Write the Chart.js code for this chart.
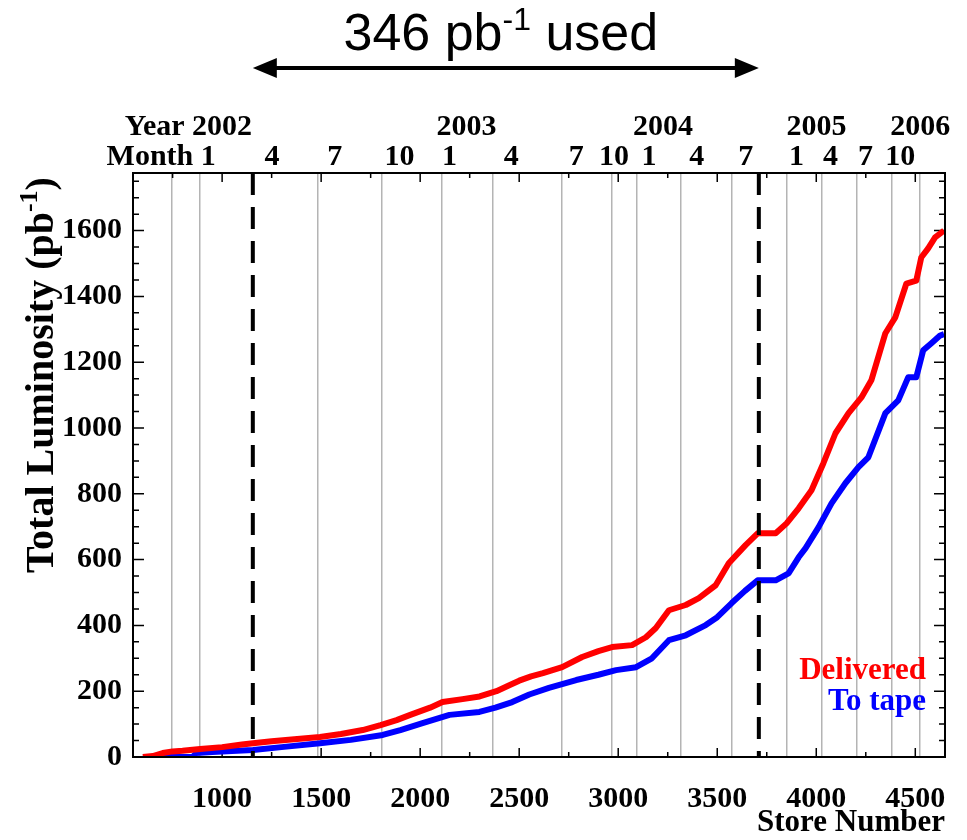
<!DOCTYPE html>
<html>
<head>
<meta charset="utf-8">
<title>Total Luminosity vs Store Number</title>
<script src="https://cdn.jsdelivr.net/npm/chart.js@4.4.1/dist/chart.umd.min.js"></script>
<style>
  body { margin: 0; background: #fff; }
  canvas { display: block; }
</style>
</head>
<body>
<canvas id="lumiChart" width="967" height="840"></canvas>
<script>
// store number ranges and ticks
const storeMin = 550;
const storeMax = 4650;
const storeTicks = [1000, 1500, 2000, 2500, 3000, 3500, 4000, 4500];
const lumiMax = 1775;
const lumiTicks = [0, 200, 400, 600, 800, 1000, 1200, 1400, 1600];

// calendar axis on top (positions in store number)
const gridStores = [748, 889, 1483, 1806, 2108, 2365, 2717, 2969, 3095, 3316, 3573, 3850, 4026, 4203, 4379, 4525];
const monthStores = [930, 1252, 1569, 1896, 2148, 2460, 2788, 2979, 3155, 3397, 3644, 3900, 4072, 4248, 4424];
const monthLabels = ['1', '4', '7', '10', '1', '4', '7', '10', '1', '4', '7', '1', '4', '7', '10'];
const yearStores = [1000, 2234, 3226, 4001, 4525];
const yearLabels = ['2002', '2003', '2004', '2005', '2006'];

// the range used in the analysis
const usedStores = [1155, 3710];

// Delivered luminosity (pb^-1)
const deliveredStore = [600, 650, 700, 750, 800, 889, 1000, 1100, 1156, 1250, 1350, 1494, 1600, 1710, 1800, 1881, 1950, 2050, 2113, 2214, 2300, 2385, 2450, 2500, 2560, 2620, 2717, 2818, 2900, 2969, 3070, 3140, 3190, 3256, 3341, 3407, 3492, 3558, 3643, 3704, 3795, 3850, 3911, 3976, 4036, 4097, 4163, 4228, 4278, 4349, 4399, 4455, 4505, 4530, 4565, 4600, 4645];
const deliveredLumi = [0, 3, 12, 17, 19, 24, 30, 38, 42, 48, 53, 61, 70, 82, 97, 112, 128, 150, 167, 176, 184, 200, 218, 232, 245, 255, 273, 304, 322, 334, 340, 364, 392, 446, 462, 483, 522, 589, 644, 680, 680, 710, 756, 811, 893, 984, 1045, 1093, 1145, 1288, 1336, 1439, 1448, 1518, 1546, 1579, 1600];

// Luminosity to tape (pb^-1)
const tapeStore = [600, 850, 870, 950, 1050, 1156, 1300, 1494, 1650, 1811, 1900, 2012, 2148, 2299, 2380, 2465, 2551, 2650, 2788, 2900, 2989, 3090, 3170, 3256, 3341, 3442, 3500, 3573, 3640, 3704, 3795, 3860, 3911, 3946, 4011, 4077, 4147, 4213, 4263, 4349, 4414, 4464, 4505, 4540, 4580, 4625, 4645];
const tapeLumi = [0, 0, 12, 15, 18, 21, 30, 42, 52, 67, 82, 103, 128, 137, 150, 167, 190, 210, 234, 250, 264, 273, 300, 355, 370, 401, 425, 468, 505, 537, 537, 558, 607, 635, 698, 771, 832, 881, 911, 1045, 1084, 1154, 1154, 1236, 1257, 1281, 1285];

const SERIF = '"Liberation Serif", "Times New Roman", serif';
const SANS = '"Liberation Sans", Arial, sans-serif';

let myChart;

document.addEventListener("DOMContentLoaded", function () {
    renderChart();
});

function toPoints(xs, ys) {
    return xs.map((x, i) => ({ x: x, y: ys[i] }));
}

function fixedTicks(values) {
    return function (scale) {
        scale.ticks = values.map(v => ({ value: v }));
    };
}

function labelFrom(values, labels) {
    return function (value) {
        const i = values.indexOf(value);
        return i >= 0 ? labels[i] : '';
    };
}

// horizontal axes: fixed height, and no extra side padding for overhanging labels
function fixHeight(h) {
    return function (scale) {
        scale.height = h;
        scale.paddingLeft = 0;
        scale.paddingRight = 0;
    };
}

// text with a superscript part, drawn left to right from x
function drawSupText(ctx, parts, x, y, font, supFont, rise) {
    let cx = x;
    parts.forEach(p => {
        ctx.font = p.sup ? supFont : font;
        ctx.fillText(p.text, cx, p.sup ? y - rise : y);
        cx += ctx.measureText(p.text).width;
    });
}

function supTextWidth(ctx, parts, font, supFont) {
    let w = 0;
    parts.forEach(p => {
        ctx.font = p.sup ? supFont : font;
        w += ctx.measureText(p.text).width;
    });
    return w;
}

const overlayPlugin = {
    id: 'overlay',
    beforeDatasetsDraw(chart) {
        const ctx = chart.ctx;
        const area = chart.chartArea;
        const xs = chart.scales.x;
        const ys = chart.scales.y;
        ctx.save();
        ctx.strokeStyle = '#000';
        // inner tick marks on all four sides
        ctx.lineWidth = 1.5;
        for (let v = 750; v <= storeMax; v += 250) {
            const px = xs.getPixelForValue(v);
            const len = storeTicks.includes(v) ? 9 : 5;
            ctx.beginPath();
            ctx.moveTo(px, area.bottom); ctx.lineTo(px, area.bottom - len);
            ctx.moveTo(px, area.top); ctx.lineTo(px, area.top + len);
            ctx.stroke();
        }
        for (let v = 50; v < lumiMax; v += 50) {
            const py = ys.getPixelForValue(v);
            const len = lumiTicks.includes(v) ? 11 : 6;
            ctx.beginPath();
            ctx.moveTo(area.left, py); ctx.lineTo(area.left + len, py);
            ctx.moveTo(area.right, py); ctx.lineTo(area.right - len, py);
            ctx.stroke();
        }
        ctx.restore();
    },
    afterDatasetsDraw(chart) {
        const ctx = chart.ctx;
        const area = chart.chartArea;
        const xs = chart.scales.x;
        ctx.save();
        // dashed lines marking the used range
        ctx.strokeStyle = '#000';
        ctx.lineWidth = 4;
        ctx.setLineDash([22, 12]);
        usedStores.forEach(s => {
            const px = xs.getPixelForValue(s);
            ctx.beginPath();
            ctx.moveTo(px, area.top);
            ctx.lineTo(px, area.bottom);
            ctx.stroke();
        });
        ctx.setLineDash([]);
        // frame
        ctx.lineWidth = 2;
        ctx.strokeRect(area.left, area.top, area.right - area.left, area.bottom - area.top);
        ctx.restore();
    },
    afterDraw(chart) {
        const ctx = chart.ctx;
        const xs = chart.scales.x;
        ctx.save();
        ctx.fillStyle = '#000';
        ctx.textBaseline = 'alphabetic';

        // header "346 pb-1 used"
        const headParts = [{ text: '346 pb' }, { text: '-1', sup: true }, { text: ' used' }];
        const headFont = '52px ' + SANS;
        const headSup = '32px ' + SANS;
        const hw = supTextWidth(ctx, headParts, headFont, headSup);
        const xa = xs.getPixelForValue(usedStores[0]);
        const xb = xs.getPixelForValue(usedStores[1]);
        drawSupText(ctx, headParts, (xa + xb) / 2 - 5 - hw / 2, 50, headFont, headSup, 20);

        // double-headed arrow
        const ay = 68;
        ctx.strokeStyle = '#000';
        ctx.lineWidth = 4;
        ctx.beginPath();
        ctx.moveTo(xa + 12, ay);
        ctx.lineTo(xb - 12, ay);
        ctx.stroke();
        ctx.beginPath();
        ctx.moveTo(xa, ay); ctx.lineTo(xa + 24, ay - 10); ctx.lineTo(xa + 24, ay + 10); ctx.closePath();
        ctx.moveTo(xb, ay); ctx.lineTo(xb - 24, ay - 10); ctx.lineTo(xb - 24, ay + 10); ctx.closePath();
        ctx.fill();

        // "Year" and "Month" words in front of the first labels
        ctx.font = 'bold 30px ' + SERIF;
        ctx.textAlign = 'right';
        ctx.textBaseline = 'middle';
        const sp = ctx.measureText(' ').width;
        const yearScale = chart.scales.xYear;
        const monthScale = chart.scales.xMonth;
        const y0 = yearScale.getPixelForValue(yearStores[0]) - ctx.measureText(yearLabels[0]).width / 2 - sp;
        ctx.fillText('Year', y0, yearScale.bottom - 15);
        const m0 = monthScale.getPixelForValue(monthStores[0]) - ctx.measureText(monthLabels[0]).width / 2 - sp;
        ctx.fillText('Month', m0, monthScale.bottom - 16);

        // legend
        ctx.font = 'bold 31px ' + SERIF;
        ctx.fillStyle = '#ff0000';
        ctx.fillText('Delivered', 926, 671);
        ctx.fillStyle = '#0000ff';
        ctx.fillText('To tape', 926, 702);

        // y axis title with superscript, rotated
        ctx.fillStyle = '#000';
        ctx.textAlign = 'left';
        ctx.textBaseline = 'alphabetic';
        const titleParts = [{ text: 'Total Luminosity (pb' }, { text: '-1', sup: true }, { text: ')' }];
        const tFont = 'bold 40px ' + SERIF;
        const tSup = 'bold 26px ' + SERIF;
        const tw = supTextWidth(ctx, titleParts, tFont, tSup);
        ctx.translate(53, 375);
        ctx.rotate(-Math.PI / 2);
        drawSupText(ctx, titleParts, -tw / 2, 0, tFont, tSup, 16);
        ctx.restore();
    }
};

function renderChart() {
    const ctx = document.getElementById('lumiChart').getContext('2d');
    const tickFont = { family: SERIF, size: 30, weight: 'bold' };
    const topFont = { family: SERIF, size: 30, weight: 'bold', lineHeight: 1 };

    if (myChart) {
        myChart.destroy();
    }

    myChart = new Chart(ctx, {
        type: 'line',
        data: {
            datasets: [{
                label: 'Delivered',
                data: toPoints(deliveredStore, deliveredLumi),
                borderColor: '#ff0000',
                borderWidth: 6,
                pointRadius: 0,
                borderJoinStyle: 'round',
                tension: 0
            }, {
                label: 'To tape',
                data: toPoints(tapeStore, tapeLumi),
                borderColor: '#0000ff',
                borderWidth: 6,
                pointRadius: 0,
                borderJoinStyle: 'round',
                tension: 0
            }]
        },
        options: {
            responsive: false,
            animation: false,
            devicePixelRatio: 1,
            layout: { padding: { top: 111, right: 22, left: 0, bottom: 0 } },
            plugins: {
                legend: { display: false },
                tooltip: { enabled: false }
            },
            scales: {
                x: {
                    type: 'linear',
                    position: 'bottom',
                    min: storeMin,
                    max: storeMax,
                    afterBuildTicks: fixedTicks(storeTicks),
                    grid: { display: false, drawTicks: false },
                    border: { display: false },
                    ticks: {
                        font: tickFont, color: '#000', padding: 24,
                        autoSkip: false, maxRotation: 0,
                        callback: v => String(v)
                    },
                    title: {
                        display: true, text: 'Store Number', align: 'end', color: '#000',
                        font: { family: SERIF, size: 31, weight: 'bold', lineHeight: 1 },
                        padding: { top: 0, bottom: 2 }
                    },
                    afterFit: fixHeight(83)
                },
                y: {
                    type: 'linear',
                    min: 0,
                    max: lumiMax,
                    afterBuildTicks: fixedTicks(lumiTicks),
                    grid: { display: false, drawTicks: false },
                    border: { display: false },
                    ticks: { font: tickFont, color: '#000', padding: 11, callback: v => String(v) },
                    afterFit: s => { s.width = 133; s.paddingTop = 0; s.paddingBottom = 0; }
                },
                xYear: {
                    type: 'linear',
                    position: 'top',
                    weight: 3,
                    min: storeMin,
                    max: storeMax,
                    afterBuildTicks: fixedTicks(yearStores),
                    grid: { display: false, drawTicks: false },
                    border: { display: false },
                    ticks: {
                        font: topFont, color: '#000', padding: 0,
                        autoSkip: false, maxRotation: 0,
                        callback: labelFrom(yearStores, yearLabels)
                    },
                    afterFit: fixHeight(31)
                },
                xMonth: {
                    type: 'linear',
                    position: 'top',
                    weight: 2,
                    min: storeMin,
                    max: storeMax,
                    afterBuildTicks: fixedTicks(monthStores),
                    grid: { display: false, drawTicks: false },
                    border: { display: false },
                    ticks: {
                        font: topFont, color: '#000', padding: 1,
                        autoSkip: false, maxRotation: 0,
                        callback: labelFrom(monthStores, monthLabels)
                    },
                    afterFit: fixHeight(31)
                },
                xGrid: {
                    type: 'linear',
                    position: 'top',
                    weight: 1,
                    min: storeMin,
                    max: storeMax,
                    afterBuildTicks: fixedTicks(gridStores),
                    grid: { color: '#b4b4b4', lineWidth: 1.5, drawTicks: false },
                    border: { display: false },
                    ticks: { display: false },
                    afterFit: fixHeight(0)
                }
            }
        },
        plugins: [overlayPlugin]
    });
}
</script>
</body>
</html>
